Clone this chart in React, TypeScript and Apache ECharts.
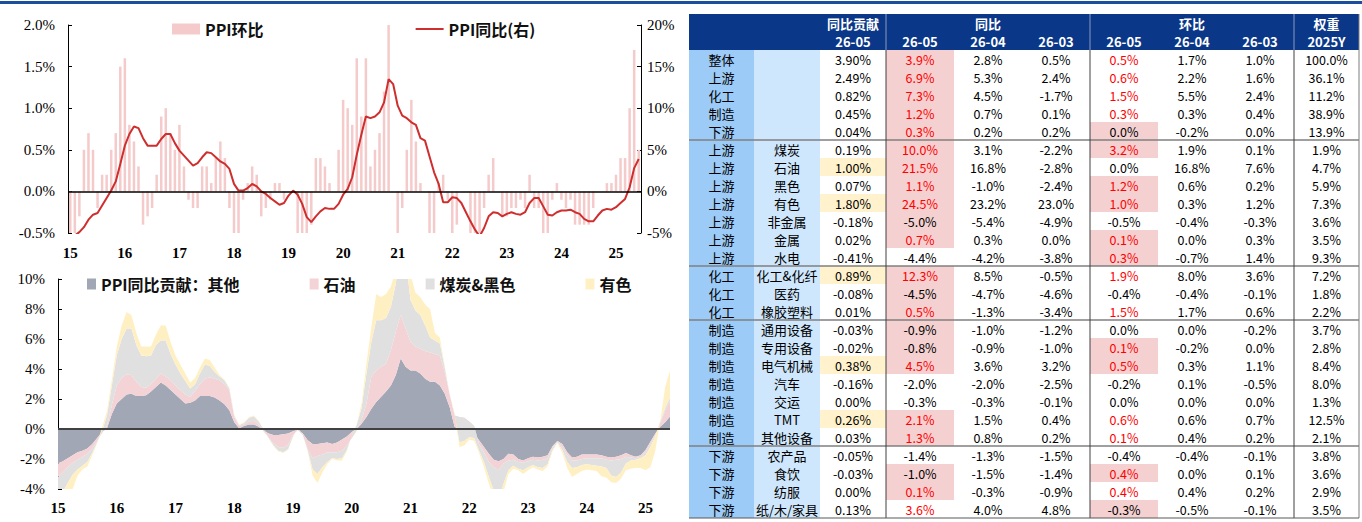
import React, { useEffect, useRef } from 'react';
import * as echarts from 'echarts';

// ---------- time axis ----------
const yearLabels = ['15', '16', '17', '18', '19', '20', '21', '22', '23', '24', '25'];
const startYear = 2015;
const startMonth = 12;

// ---------- top chart: PPI MoM (%) and YoY (%) ----------
const ppiMoM = [
  -0.5,
  -0.5, -0.3, 0.5, 0.7, 0.5, -0.2, 0.2, 0.2, 0.5, 0.7, 1.5, 1.6,
  0.8, 0.6, 0.3, -0.4, -0.3, -0.2, 0.2, 0.9, 1.0, 0.7, 0.5, 0.8,
  0.3, -0.1, -0.2, -0.2, 0.3, 0.3, 0.1, 0.4, 0.6, 0.4, -0.2, -0.9,
  -0.6, -0.1, 0.1, 0.3, 0.2, -0.3, -0.2, -0.1, 0.1, 0.1, -0.1, 0.0,
  0.0, -0.5, -1.0, -1.3, -0.4, 0.4, 0.4, 0.3, 0.1, 0.0, 0.5, 1.1,
  1.0, 0.8, 1.6, 0.9, 1.6, 0.3, 0.5, 0.7, 1.2, 2.5, 0.0, -1.2,
  -0.2, 0.5, 1.1, 0.6, 0.1, 0.0, -1.3, -1.2, 0.1, 0.2, -0.1, -0.5,
  -0.4, 0.0, 0.0, -0.5, -0.9, -0.8, -0.2, 0.2, 0.4, 0.0, -0.3, -0.3,
  -0.2, -0.2, -0.1, -0.2, 0.2, -0.2, -0.2, -0.7, -0.6, -0.1, 0.1, -0.1,
  -0.2, -0.1, -0.4, -0.4, -0.4, -0.4, -0.2, 0.0, 0.0, 0.1, 0.1, 0.2,
  0.4, 0.4, 1.0, 1.7, 0.5,
];
const ppiYoY = [
  -5.9,
  -5.3, -4.9, -4.3, -3.4, -2.8, -2.6, -1.7, -0.8, 0.1, 1.2, 3.3, 5.5,
  6.9, 7.8, 7.6, 6.4, 5.5, 5.5, 5.5, 6.3, 6.9, 6.9, 5.8, 4.9,
  4.3, 3.7, 3.1, 3.4, 4.1, 4.7, 4.6, 4.1, 3.6, 3.3, 2.7, 0.9,
  0.1, 0.1, 0.4, 0.9, 0.6, 0.0, -0.3, -0.8, -1.2, -1.6, -1.4, -0.5,
  0.1, -0.4, -1.5, -3.1, -3.7, -3.0, -2.4, -2.0, -2.1, -2.1, -1.5, -0.4,
  0.3, 1.7, 4.4, 6.8, 9.0, 8.8, 9.0, 9.5, 10.7, 13.5, 12.9, 10.3,
  9.1, 8.8, 8.3, 8.0, 6.4, 6.1, 4.2, 2.3, 0.9, -1.3, -1.3, -0.7,
  -0.8, -1.4, -2.5, -3.6, -4.6, -5.4, -4.4, -3.0, -2.5, -2.6, -3.0, -2.7,
  -2.5, -2.7, -2.8, -2.5, -1.4, -0.8, -0.8, -1.8, -2.8, -2.9, -2.5, -2.3,
  -2.3, -2.2, -2.5, -2.7, -3.3, -3.6, -3.6, -2.9, -2.3, -2.1, -2.2, -1.9,
  -1.4, -0.9, 0.5, 2.8, 3.9,
];

// ---------- bottom chart: contributions to PPI YoY (ppt) ----------
const contribOther = [
  -2.3, -2.15, -1.95, -1.75, -1.55, -1.45, -1.3, -1.0, -0.6, -0.2,
  0.05, 1.0, 1.7, 2.0, 2.3, 2.35, 2.2, 2.2, 2.25, 2.5,
  2.8, 3.1, 2.9, 2.6, 2.3, 2.0, 1.7, 1.75, 1.9, 2.2,
  2.2, 2.2, 2.1, 1.9, 1.65, 1.25, 0.45, 0.05, 0.2, 0.3,
  0.3, 0.15, -0.1, -0.3, -0.4, -0.4, -0.35, -0.3, -0.15, -0.05,
  -0.3, -0.75, -1.0, -1.0, -0.95, -0.9, -1.0, -0.9, -0.7, -0.5,
  -0.2, 0.0, 0.35, 0.8, 1.35, 1.8, 2.15, 2.5, 2.9, 3.6,
  4.7, 4.15, 3.9, 3.9, 3.7, 3.35, 3.15, 3.15, 2.9, 2.35,
  1.45, 0.15, -0.05, -0.05, -0.1, -0.3, -0.75, -1.2, -1.65, -2.05,
  -2.15, -2.0, -1.65, -1.7, -2.0, -2.1, -1.95, -1.85, -1.9, -1.85,
  -1.75, -1.15, -0.8, -1.0, -1.55, -1.9, -1.85, -1.7, -1.7, -1.7,
  -1.7, -1.75, -1.85, -1.9, -1.85, -1.75, -1.6, -1.75, -1.85, -1.75,
  -1.4, -0.85, -0.3, 0.15, 0.45, 0.84,
];
const contribOil = [
  -0.9, -0.75, -0.6, -0.5, -0.5, -0.4, -0.35, -0.3, -0.2, -0.05,
  0.15, 0.6, 1.2, 1.4, 1.35, 1.25, 0.95, 0.6, 0.5, 0.5,
  0.55, 0.6, 0.6, 0.65, 0.6, 0.6, 0.6, 0.4, 0.65, 0.8,
  1.15, 1.25, 1.25, 1.35, 1.35, 1.35, 0.35, 0.15, 0.1, 0.2,
  0.25, 0.15, -0.05, -0.25, -0.55, -0.8, -0.9, -0.75, -0.25, 0.0,
  -0.1, -0.6, -0.95, -0.8, -0.75, -0.65, -0.55, -0.65, -0.75, -0.6,
  -0.4, -0.1, 0.25, 0.9, 2.15, 2.1, 2.0, 1.85, 2.35, 2.9,
  2.9, 2.55, 1.9, 1.6, 1.65, 1.85, 1.95, 1.85, 2.0, 1.45,
  0.85, 0.75, 0.85, 0.8, 0.6, 0.5, -0.25, -0.35, -0.55, -0.5,
  -0.6, -0.3, -0.45, -0.35, -0.2, -0.15, -0.2, -0.2, -0.2, -0.2,
  -0.2, -0.1, -0.05, -0.2, -0.2, -0.2, -0.25, -0.3, -0.25, -0.25,
  -0.25, -0.2, -0.2, -0.2, -0.2, -0.25, -0.25, -0.15, -0.1, -0.1,
  -0.15, -0.15, -0.1, 0.25, 0.75, 1.0,
];
const contribCoalSteel = [
  -1.4, -1.3, -1.05, -0.8, -0.65, -0.6, -0.55, -0.3, -0.1, 0.1,
  0.7, 1.3, 2.0, 2.6, 3.05, 3.1, 2.45, 2.1, 2.1, 1.9,
  2.25, 2.2, 2.4, 1.75, 1.4, 1.1, 0.9, 0.55, 0.45, 0.7,
  0.95, 0.75, 0.45, 0.25, 0.25, 0.1, 0.1, 0.05, 0.1, 0.25,
  0.3, 0.2, 0.1, -0.05, -0.15, -0.25, -0.3, -0.3, -0.1, 0.1,
  0.0, -0.1, -0.75, -1.2, -0.85, -0.65, -0.4, -0.45, -0.5, -0.3,
  0.15, 0.35, 0.8, 2.0, 2.3, 3.35, 3.1, 3.05, 2.9, 3.2,
  4.8, 4.7, 2.8, 2.4, 2.25, 1.7, 1.0, 0.9, 0.8, 0.3,
  0.0, 0.1, -1.7, -1.55, -1.05, -0.8, -0.45, -0.65, -1.0, -1.55,
  -1.95, -1.35, -0.65, -0.4, -0.45, -0.5, -0.4, -0.35, -0.45, -0.55,
  -0.4, -0.15, -0.05, -0.2, -0.45, -0.5, -0.45, -0.4, -0.4, -0.45,
  -0.5, -0.55, -0.55, -1.0, -1.15, -0.9, -0.45, -0.2, -0.1, -0.1,
  -0.2, -0.2, -0.1, 0.1, 0.2, 0.26,
];
const contribNonferrous = [
  -1.3, -1.1, -1.3, -0.95, -0.4, -0.25, -0.3, -0.15, -0.05, 0.25,
  0.3, 0.4, 0.6, 0.9, 1.1, 0.9, 0.8, 0.6, 0.65, 0.6,
  0.7, 1.0, 1.0, 0.8, 0.6, 0.6, 0.5, 0.4, 0.4, 0.4,
  0.4, 0.4, 0.3, 0.1, 0.05, 0.05, 0.05, 0.05, 0.05, 0.05,
  0.05, 0.05, 0.05, 0.0, -0.05, -0.05, -0.05, -0.05, -0.05, 0.05,
  0.0, -0.05, -0.4, -0.6, -0.35, -0.15, -0.05, -0.1, -0.15, -0.1,
  0.05, 0.05, 0.3, 0.7, 1.0, 1.75, 1.55, 1.6, 1.35, 1.0,
  1.1, 1.5, 1.7, 1.2, 1.2, 1.4, 1.9, 0.5, 0.4, 0.1,
  0.0, -0.1, -0.3, -0.3, -0.15, -0.2, -0.15, -0.35, -0.45, -0.5,
  -0.7, -0.55, -0.25, -0.2, -0.1, -0.25, -0.2, -0.15, -0.15, -0.2,
  -0.15, -0.1, -0.05, -0.2, -0.4, -0.6, -0.45, -0.4, -0.35, -0.35,
  -0.35, -0.65, -0.65, -0.45, -0.4, -0.4, -0.45, -0.55, -0.55, -0.65,
  -1.0, -1.35, -0.95, 0.0, 1.4, 1.8,
];

// ---------- table ----------
const tblLevel1 = ['整体', '上游', '化工', '制造', '下游', '上游', '上游', '上游', '上游', '上游', '上游', '上游', '化工', '化工', '化工', '制造', '制造', '制造', '制造', '制造', '制造', '制造', '下游', '下游', '下游', '下游'];
const tblLevel2 = ['', '', '', '', '', '煤炭', '石油', '黑色', '有色', '非金属', '金属', '水电', '化工&化纤', '医药', '橡胶塑料', '通用设备', '专用设备', '电气机械', '汽车', '交运', 'TMT', '其他设备', '农产品', '食饮', '纺服', '纸/木/家具'];
const tblContrib = [3.90, 2.49, 0.82, 0.45, 0.04, 0.19, 1.00, 0.07, 1.80, -0.18, 0.02, -0.41, 0.89, -0.08, 0.01, -0.03, -0.02, 0.38, -0.16, 0.00, 0.26, 0.03, -0.05, -0.03, 0.00, 0.13];
const tblYoY0 = [3.9, 6.9, 7.3, 1.2, 0.3, 10.0, 21.5, 1.1, 24.5, -5.0, 0.7, -4.4, 12.3, -4.5, 0.5, -0.9, -0.8, 4.5, -2.0, -0.3, 2.1, 1.3, -1.4, -1.0, 0.1, 3.6];
const tblYoY1 = [2.8, 5.3, 4.5, 0.7, 0.2, 3.1, 16.8, -1.0, 23.2, -5.4, 0.3, -4.2, 8.5, -4.7, -1.3, -1.0, -0.9, 3.6, -2.0, -0.3, 1.5, 0.8, -1.3, -1.5, -0.3, 4.0];
const tblYoY2 = [0.5, 2.4, -1.7, 0.1, 0.2, -2.2, -2.8, -2.4, 23.0, -4.9, 0.0, -3.8, -0.5, -4.6, -3.4, -1.2, -1.0, 3.2, -2.5, -0.1, 0.4, 0.2, -1.5, -1.4, -0.9, 4.8];
const tblMoM0 = [0.5, 0.6, 1.5, 0.3, 0.0, 3.2, 0.0, 1.2, 1.0, -0.5, 0.1, 0.3, 1.9, -0.4, 1.5, 0.0, 0.1, 0.5, -0.2, 0.0, 0.6, 0.1, -0.4, 0.4, 0.4, -0.3];
const tblMoM1 = [1.7, 2.2, 5.5, 0.3, -0.2, 1.9, 16.8, 0.6, 0.3, -0.4, 0.0, -0.7, 8.0, -0.4, 1.7, 0.0, -0.2, 0.3, 0.1, 0.0, 0.6, 0.4, -0.4, 0.0, 0.4, -0.5];
const tblMoM2 = [1.0, 1.6, 2.4, 0.4, 0.0, 0.1, 7.6, 0.2, 1.2, -0.3, 0.3, 1.4, 3.6, -0.1, 0.6, -0.2, 0.0, 1.1, -0.5, 0.0, 0.7, 0.2, -0.1, 0.1, 0.2, -0.1];
const tblWeight = [100.0, 36.1, 11.2, 38.9, 13.9, 1.9, 4.7, 5.9, 7.3, 3.6, 3.5, 9.3, 7.2, 1.8, 2.2, 3.7, 2.8, 8.4, 8.0, 1.3, 12.5, 2.1, 3.8, 3.6, 2.9, 3.5];
const tblPeriods = ['26-05', '26-04', '26-03'];
const tblWeightYear = '2025Y';
const tblGroupHeads = ['同比贡献', '同比', '环比', '权重'];
const tblGroupBreaks = [5, 12, 15, 22];

// ---------- layout & style ----------
const NAVY = '#0b3789';
const TX = 689;
const TY = 14;
const HEAD_H = 36;
const ROW_H = 18;
const colW = [65, 66, 66, 68, 68, 68, 68, 68, 68, 65];
const colX: number[] = [TX];
colW.forEach((w, i) => colX.push(colX[i] + w));
const TABLE_FONT = '"Noto Sans CJK SC", "Noto Sans", sans-serif';
const SERIF = '"Liberation Serif", "DejaVu Serif", serif';

function txt(x: number, y: number, text: string, opts: any = {}) {
  return {
    type: 'text',
    x,
    y,
    silent: true,
    style: {
      text,
      fill: opts.fill || '#000',
      fontSize: opts.fontSize || 12.5,
      fontWeight: opts.fontWeight || 'normal',
      fontFamily: TABLE_FONT,
      align: 'center',
      verticalAlign: 'middle',
      textAlign: 'center',
      textVerticalAlign: 'middle',
    },
  };
}
function rect(x: number, y: number, w: number, h: number, fill: string) {
  return { type: 'rect', silent: true, shape: { x, y, width: w, height: h }, style: { fill } };
}
function line(x1: number, y1: number, x2: number, y2: number, stroke: string, lw: number) {
  return { type: 'line', silent: true, shape: { x1, y1, x2, y2 }, style: { stroke, lineWidth: lw } };
}

function buildTable() {
  const els: any[] = [];
  const n = tblLevel1.length;
  const bodyTop = TY + HEAD_H;
  const bodyBottom = bodyTop + n * ROW_H;
  const right = colX[colX.length - 1];
  const cx = (c: number) => colX[c] + colW[c] / 2;
  const cy = (r: number) => bodyTop + r * ROW_H + ROW_H / 2;

  // page top rule
  els.push(rect(0, 1, 1362, 3, '#1b4f9e'));
  // header
  els.push(rect(TX, TY, right - TX, HEAD_H, NAVY));
  // label columns
  els.push(rect(colX[0], bodyTop, colW[0], n * ROW_H, '#9ccbf7'));
  els.push(rect(colX[1], bodyTop, colW[1], n * ROW_H, '#cfe7fd'));

  // top-5 contributions among the sub-industries
  const subRows = tblLevel2.map((_, i) => i).filter((i) => tblLevel2[i] !== '');
  const top5 = [...subRows].sort((a, b) => tblContrib[b] - tblContrib[a]).slice(0, 5);

  for (let r = 0; r < n; r++) {
    const y0 = bodyTop + r * ROW_H;
    if (top5.includes(r)) els.push(rect(colX[2], y0, colW[2], ROW_H, '#fff2cc'));
    if (tblYoY0[r] > tblYoY1[r]) els.push(rect(colX[3], y0, colW[3], ROW_H, '#f4d0d0'));
    if (tblMoM0[r] > tblMoM1[r]) els.push(rect(colX[6], y0, colW[6], ROW_H, '#f4d0d0'));
  }

  // header texts
  const h1 = TY + 9;
  const h2 = TY + 27;
  const hs = { fill: '#fff', fontWeight: 'bold', fontSize: 13 };
  els.push(txt(cx(2), h1, tblGroupHeads[0], hs));
  els.push(txt((colX[3] + colX[6]) / 2, h1, tblGroupHeads[1], hs));
  els.push(txt((colX[6] + colX[9]) / 2, h1, tblGroupHeads[2], hs));
  els.push(txt(cx(9), h1, tblGroupHeads[3], hs));
  els.push(txt(cx(2), h2, tblPeriods[0], hs));
  tblPeriods.forEach((p, k) => {
    els.push(txt(cx(3 + k), h2, p, hs));
    els.push(txt(cx(6 + k), h2, p, hs));
  });
  els.push(txt(cx(9), h2, tblWeightYear, hs));

  const pct = (v: number, d: number) => v.toFixed(d) + '%';
  const red = '#ff0000';
  for (let r = 0; r < n; r++) {
    const y = cy(r);
    els.push(txt(cx(0), y, tblLevel1[r], { fontSize: 13 }));
    if (tblLevel2[r]) els.push(txt(cx(1), y, tblLevel2[r], { fontSize: 13 }));
    els.push(txt(cx(2), y, pct(tblContrib[r], 2)));
    els.push(txt(cx(3), y, pct(tblYoY0[r], 1), { fill: tblYoY0[r] > 0 ? red : '#000' }));
    els.push(txt(cx(4), y, pct(tblYoY1[r], 1)));
    els.push(txt(cx(5), y, pct(tblYoY2[r], 1)));
    els.push(txt(cx(6), y, pct(tblMoM0[r], 1), { fill: tblMoM0[r] > 0 ? red : '#000' }));
    els.push(txt(cx(7), y, pct(tblMoM1[r], 1)));
    els.push(txt(cx(8), y, pct(tblMoM2[r], 1)));
    els.push(txt(cx(9), y, pct(tblWeight[r], 1)));
  }

  // group separators
  tblGroupBreaks.forEach((k) => {
    const y = bodyTop + k * ROW_H;
    els.push(line(TX, y, right, y, '#7f7f7f', 1.5));
  });
  // vertical separators
  [3, 6, 9].forEach((c) => {
    els.push(line(colX[c], TY, colX[c], bodyTop, '#8a9bbd', 1));
    els.push(line(colX[c], bodyTop, colX[c], bodyBottom, '#404040', 1));
  });
  els.push(line(right, TY, right, bodyBottom, '#7f7f7f', 1));
  els.push(line(TX, bodyBottom, right, bodyBottom, '#595959', 1));
  return els;
}

// ---------- chart ----------
function buildOption() {
  const months = ppiYoY.map((_, i) => {
    const m = startMonth - 1 + i;
    const y = startYear + Math.floor(m / 12);
    return y + '-' + String((m % 12) + 1).padStart(2, '0');
  });
  const yearFmt = (_v: string, idx: number) => yearLabels[idx / 12] ?? '';
  const legendText = { fontSize: 16, fontWeight: 'bold', fontFamily: TABLE_FONT, color: '#111' };
  const axisLab = { fontFamily: SERIF, fontSize: 15, color: '#000' };
  const yCommon = {
    axisLine: { show: true, lineStyle: { color: '#000', width: 1 } },
    axisTick: { show: true, inside: true, length: 4, lineStyle: { color: '#000' } },
    splitLine: { show: false },
  };
  const areaSeries = (name: string, data: number[], color: string, extra: any = {}) => ({
    name,
    type: 'line',
    xAxisIndex: 1,
    yAxisIndex: 2,
    stack: 'contrib',
    stackStrategy: 'all',
    data,
    symbol: 'none',
    showSymbol: false,
    lineStyle: { width: 0, color },
    itemStyle: { color },
    areaStyle: { color, opacity: 1 },
    ...extra,
  });

  return {
    animation: false,
    backgroundColor: '#ffffff',
    legend: [
      {
        data: [
          { name: 'PPI环比', icon: 'rect' },
          { name: 'PPI同比(右)', icon: 'path://M0,0 L100,0 L100,7 L0,7 Z' },
        ],
        left: 167,
        top: 16,
        itemWidth: 28,
        itemHeight: 11,
        itemGap: 152,
        selectedMode: false,
        textStyle: legendText,
      },
      {
        data: ['PPI同比贡献：其他', '石油', '煤炭&黑色', '有色'],
        icon: 'rect',
        left: 82,
        top: 271,
        itemWidth: 9,
        itemHeight: 11,
        itemGap: 70,
        selectedMode: false,
        textStyle: legendText,
      },
    ],
    grid: [
      { left: 68, top: 25, width: 573, height: 208 },
      { left: 58, top: 279, width: 612, height: 210 },
    ],
    xAxis: [
      {
        type: 'category',
        gridIndex: 0,
        data: months,
        boundaryGap: true,
        axisLine: { show: false },
        axisTick: { show: false },
        splitLine: { show: false },
        axisLabel: { ...axisLab, fontWeight: 'bold', interval: 11, margin: 12, formatter: yearFmt },
      },
      {
        type: 'category',
        gridIndex: 1,
        data: months,
        boundaryGap: false,
        axisLine: { show: false },
        axisTick: { show: false },
        splitLine: { show: false },
        axisLabel: { ...axisLab, fontWeight: 'bold', interval: 11, margin: 11, formatter: yearFmt },
      },
    ],
    yAxis: [
      {
        type: 'value',
        gridIndex: 0,
        min: -0.5,
        max: 2.0,
        interval: 0.5,
        ...yCommon,
        axisLabel: { ...axisLab, margin: 13, formatter: (v: number) => v.toFixed(1) + '%' },
      },
      {
        type: 'value',
        gridIndex: 0,
        position: 'right',
        min: -5,
        max: 20,
        interval: 5,
        ...yCommon,
        axisLabel: { ...axisLab, margin: 6, formatter: (v: number) => v + '%' },
      },
      {
        type: 'value',
        gridIndex: 1,
        min: -4,
        max: 10,
        interval: 2,
        ...yCommon,
        axisLabel: { ...axisLab, margin: 13, formatter: (v: number) => v + '%' },
      },
    ],
    series: [
      {
        name: 'PPI环比',
        type: 'bar',
        xAxisIndex: 0,
        yAxisIndex: 0,
        data: ppiMoM,
        barWidth: '55%',
        clip: true,
        itemStyle: { color: '#f5caca' },
        markLine: {
          silent: true,
          symbol: ['none', 'none'],
          label: { show: false },
          lineStyle: { color: '#000', width: 1.5, type: 'solid' },
          data: [{ yAxis: 0 }],
        },
      },
      {
        name: 'PPI同比(右)',
        type: 'line',
        xAxisIndex: 0,
        yAxisIndex: 1,
        data: ppiYoY,
        symbol: 'none',
        showSymbol: false,
        z: 4,
        lineStyle: { color: '#cf2e2e', width: 2 },
        itemStyle: { color: '#cf2e2e' },
      },
      areaSeries('PPI同比贡献：其他', contribOther, '#a1a7b5'),
      areaSeries('石油', contribOil, '#f4d3d6'),
      areaSeries('煤炭&黑色', contribCoalSteel, '#e0e0e0'),
      areaSeries('有色', contribNonferrous, '#fff0c4', {
        markLine: {
          silent: true,
          symbol: ['none', 'none'],
          label: { show: false },
          lineStyle: { color: '#404040', width: 2, type: 'solid' },
          data: [{ yAxis: 0 }],
        },
      }),
    ],
    graphic: buildTable(),
  };
}

export default function App() {
  const ref = useRef<HTMLDivElement>(null);
  useEffect(() => {
    if (!ref.current) return;
    const chart = echarts.init(ref.current, null, { renderer: 'svg' });
    chart.setOption(buildOption() as any);
    return () => chart.dispose();
  }, []);
  return (
    <div
      ref={ref}
      style={{ position: 'fixed', left: 0, top: 0, width: 1362, height: 522, background: '#fff' }}
    />
  );
}
